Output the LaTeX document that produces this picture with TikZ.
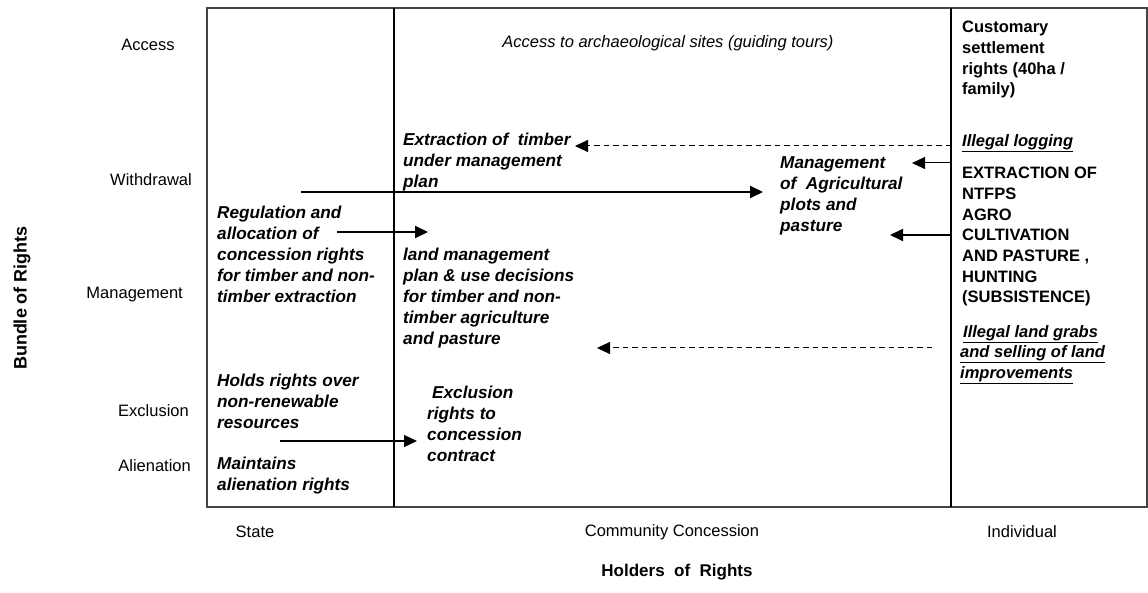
\documentclass[tikz,border=0pt]{standalone}
\usepackage{fontspec}
\setmainfont{Liberation Sans}
\usepackage{tikz}
\usetikzlibrary{arrows.meta,positioning}
\definecolor{FrameGray}{HTML}{444444}
\newcommand{\ul}[1]{\underline{#1}}

\begin{document}
\begin{tikzpicture}[
  x=1pt,y=-1pt,
  font=\fontsize{16.5}{20.7}\selectfont,
  axis/.style={inner sep=0pt},
  cell/.style={inner sep=0pt,align=left,anchor=north west,font=\fontsize{17.2}{21}\selectfont\bfseries\itshape},
  caps/.style={inner sep=0pt,align=left,anchor=north west,font=\fontsize{16.5}{20.7}\selectfont\bfseries},
  fl/.style={-{Triangle[length=13pt,width=12pt]},line width=1.3pt,black},
  thick fl/.style={fl,line width=2pt},
  dfl/.style={fl,line width=1pt,dash pattern=on 5.5pt off 4pt}
]
\useasboundingbox (0,0) rectangle (1148,593);
% frame and columns
\draw[FrameGray,line width=1.5pt] (207,8) rectangle (1147,507);
\draw[line width=2pt] (394,8) -- (394,507);
\draw[line width=2pt] (951,8) -- (951,507);
% rights axis
\node[axis] (acc)  at (148,45) {Access};
\node[axis,anchor=east] (wdr)  at (192,180) {Withdrawal};
\node[axis,anchor=east] (mgt)  at (183,295) {Management};
\node[axis,anchor=east] (exc)  at (189,411) {Exclusion};
\node[axis,anchor=east] (aln)  at (191,466) {Alienation};
\node[axis,rotate=90,font=\fontsize{18}{20}\selectfont\bfseries] (bundle) at (22,298) {Bundle of Rights};
% holders axis
\node[axis] (state) at (255,532) {State};
\node[axis] (comm)  at (672,532) {Community Concession};
\node[axis] (indiv) at (1022,532) {Individual};
\node[axis,font=\fontsize{17}{20}\selectfont\bfseries] (holders) at (677,572) {Holders\ \ of\ \ Rights};
% state column
\node[cell] (regul) at (217,205.5) {Regulation and\\allocation of\\concession rights\\for timber and non-\\timber extraction};
\node[cell] (holds) at (217,373.5) {Holds rights over\\non-renewable\\resources};
\node[cell] (maint) at (217,456.5) {Maintains\\alienation rights};
% community column
\node[axis,font=\fontsize{16.5}{20.7}\selectfont\itshape] (arch) at (668,43) {Access to archaeological sites (guiding tours)};
\node[cell] (timber) at (403,132.5) {Extraction of~ timber\\under management\\plan};
\node[cell] (agri)   at (780,156.5) {Management\\of~ Agricultural\\plots and\\pasture};
\node[cell] (landm)  at (403,247.5) {land management\\plan \& use decisions\\for timber and non-\\timber agriculture\\and pasture};
\node[cell] (excl)   at (427,385.5) {\hspace{5pt}Exclusion\\rights to\\concession\\contract};
% individual column
\node[caps] (cust) at (962,21) {Customary\\settlement\\rights (40ha /\\family)};
\node[cell,font=\fontsize{16.5}{20.7}\selectfont\bfseries\itshape] (logging) at (962,134) {\ul{Illegal logging}};
\node[caps] (extr) at (962,167) {EXTRACTION OF\\NTFPS\\AGRO\\CULTIVATION\\AND PASTURE ,\\HUNTING\\(SUBSISTENCE)};
\node[cell,font=\fontsize{16.5}{20.7}\selectfont\bfseries\itshape] (grabs) at (960,325) {\hspace{3pt}\ul{Illegal land grabs}\\\ul{and selling of land}\\\ul{improvements}};
% free ends of the arrows
\coordinate (logS)   at (951,146);
\coordinate (logE)   at (575,146);
\coordinate (agrS1)  at (951,163);
\coordinate (agrE1)  at (912,163);
\coordinate (agrS2)  at (951,235);
\coordinate (agrE2)  at (890,235);
\coordinate (wdrS)   at (301,192);
\coordinate (wdrE)   at (763,192);
\coordinate (regS)   at (337,232);
\coordinate (regE)   at (428,232);
\coordinate (grbS)   at (932,348);
\coordinate (grbE)   at (597,348);
\coordinate (hldS)   at (280,441);
\coordinate (hldE)   at (417,441);
\draw[dfl] (logS) -- (logE);
\draw[fl,line width=1pt] (agrS1) -- (agrE1);
\draw[thick fl] (agrS2) -- (agrE2);
\draw[thick fl] (wdrS) -- (wdrE);
\draw[thick fl] (regS) -- (regE);
\draw[dfl] (grbS) -- (grbE);
\draw[fl] (hldS) -- (hldE);
\end{tikzpicture}
\end{document}
